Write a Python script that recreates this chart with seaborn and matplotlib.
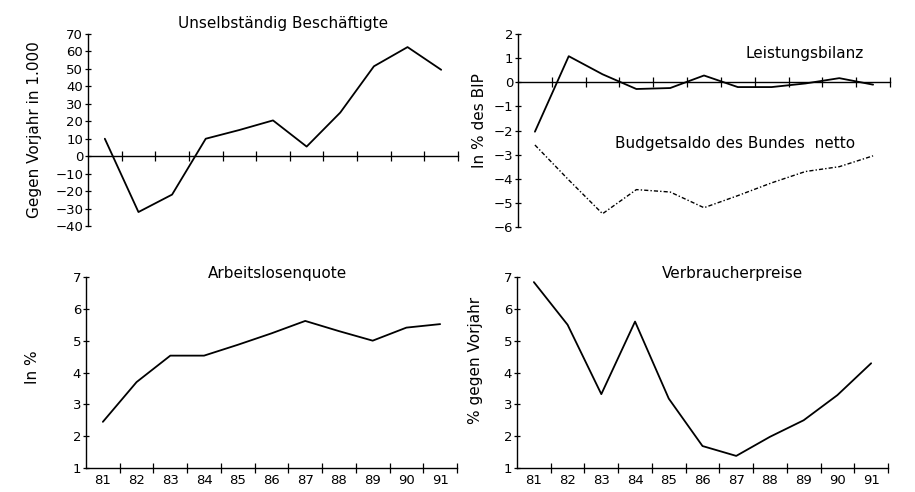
import numpy as np
import pandas as pd
import seaborn as sns
import matplotlib.pyplot as plt

# Jahre (19xx)
years = [81, 82, 83, 84, 85, 86, 87, 88, 89, 90, 91]
year_labels = ['81', '82', '83', '84', '85', '86', '87', '88', '89', '90', '91']

# Werte
beschaeftigte = [10, -32, -22, 10, 15, 20.5, 5.5, 25, 51.5, 62.5, 49.5]
leistungsbilanz = [-2.05, 1.08, 0.33, -0.28, -0.24, 0.28, -0.2, -0.2, -0.05, 0.17, -0.1]
budgetsaldo = [-2.6, -4.05, -5.45, -4.45, -4.55, -5.2, -4.7, -4.17, -3.7, -3.5, -3.05]
arbeitslosenquote = [2.45, 3.7, 4.53, 4.53, 4.87, 5.23, 5.62, 5.3, 5.0, 5.41, 5.52]
verbraucherpreise = [6.84, 5.5, 3.32, 5.6, 3.18, 1.69, 1.38, 1.98, 2.5, 3.29, 4.29]

sns.set_style('ticks')
plt.rcParams['font.family'] = ['DejaVu Sans']
for k in ['text.color', 'axes.labelcolor', 'xtick.color', 'ytick.color', 'axes.edgecolor']:
    plt.rcParams[k] = 'black'

fig = plt.figure(figsize=(9.15, 4.92), dpi=100)

W, H = 915, 492
def add_ax(x0, x1, ytop, ybot):
    return fig.add_axes([x0 / W, 1 - ybot / H, (x1 - x0) / W, (ybot - ytop) / H])

ax_tl = add_ax(88, 458, 34, 226)
ax_tr = add_ax(518, 890, 34, 227)
ax_bl = add_ax(86, 457, 277, 468)
ax_br = add_ax(517, 888, 277, 468)

bounds = [y + 0.5 for y in years]

def style(ax, ylim, yticks, zero_axis, xlabels):
    ax.set_xlim(80.5, 91.5)
    ax.set_ylim(*ylim)
    sns.despine(ax=ax, top=True, right=True)
    if zero_axis:
        ax.spines['bottom'].set_position(('data', 0))
    ax.spines['left'].set_linewidth(1.0)
    ax.spines['bottom'].set_linewidth(1.0)
    ax.set_yticks(yticks)
    ax.set_yticklabels([str(v).replace('-', '\u2212') for v in yticks], fontsize=9.5)
    ax.tick_params(axis='y', direction='inout', length=5, width=0.9, pad=1)
    ax.set_xticks(bounds)
    ax.set_xticklabels([])
    ax.tick_params(axis='x', which='major', direction='inout', length=7, width=0.9)
    if xlabels:
        ax.set_xticks(years, minor=True)
        ax.set_xticklabels(year_labels, minor=True, fontsize=9.5)
        ax.tick_params(axis='x', which='minor', length=0, pad=4)
    ax.set_xlabel('')
    ax.patch.set_alpha(0)

# Unselbständig Beschäftigte
sns.lineplot(x=years, y=beschaeftigte, ax=ax_tl, color='black', lw=1.3)
style(ax_tl, (-40, 70), list(range(-40, 80, 10)), True, False)
ax_tl.set_ylabel('Gegen Vorjahr in 1.000', fontsize=11)
ax_tl.yaxis.set_label_coords(-0.124, 0.5)
ax_tl.text(0.527, 1.057, 'Unselbständig Beschäftigte', transform=ax_tl.transAxes,
           ha='center', va='center', fontsize=11)

# Leistungsbilanz / Budgetsaldo
sns.lineplot(x=years, y=leistungsbilanz, ax=ax_tr, color='black', lw=1.3)
sns.lineplot(x=years, y=budgetsaldo, ax=ax_tr, color='black', lw=1.0,
             linestyle=(0, (3, 1.5, 1, 1.5)))
style(ax_tr, (-6, 2), list(range(-6, 3)), True, False)
ax_tr.set_ylabel('In % des BIP', fontsize=11)
ax_tr.yaxis.set_label_coords(-0.083, 0.55)
ax_tr.text(0.77, 0.90, 'Leistungsbilanz', transform=ax_tr.transAxes,
           ha='center', va='center', fontsize=11)
ax_tr.text(0.583, 0.432, 'Budgetsaldo des Bundes  netto', transform=ax_tr.transAxes,
           ha='center', va='center', fontsize=11)

# Arbeitslosenquote
sns.lineplot(x=years, y=arbeitslosenquote, ax=ax_bl, color='black', lw=1.3)
style(ax_bl, (1, 7), list(range(1, 8)), False, True)
ax_bl.set_ylabel('In %', fontsize=11)
ax_bl.yaxis.set_label_coords(-0.124, 0.53)
ax_bl.text(0.517, 1.02, 'Arbeitslosenquote', transform=ax_bl.transAxes,
           ha='center', va='center', fontsize=11)

# Verbraucherpreise
sns.lineplot(x=years, y=verbraucherpreise, ax=ax_br, color='black', lw=1.3)
style(ax_br, (1, 7), list(range(1, 8)), False, True)
ax_br.set_ylabel('% gegen Vorjahr', fontsize=11)
ax_br.yaxis.set_label_coords(-0.092, 0.565)
ax_br.text(0.58, 1.02, 'Verbraucherpreise', transform=ax_br.transAxes,
           ha='center', va='center', fontsize=11)

fig.savefig('out.png', dpi=100, facecolor='white')
